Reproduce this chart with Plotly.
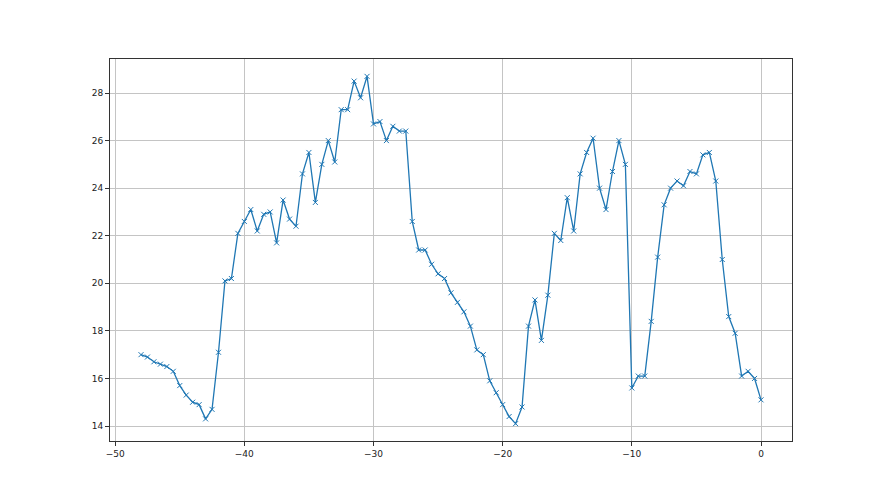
import plotly.graph_objects as go

x_vals = [-48 + 0.5 * i for i in range(97)]
y_vals = [17.0, 16.9, 16.7, 16.6, 16.5, 16.3, 15.7, 15.3, 15.0, 14.9,
          14.3, 14.7, 17.1, 20.1, 20.2, 22.1, 22.6, 23.1, 22.2, 22.9,
          23.0, 21.7, 23.5, 22.7, 22.4, 24.6, 25.5, 23.4, 25.0, 26.0,
          25.1, 27.3, 27.3, 28.5, 27.8, 28.7, 26.7, 26.8, 26.0, 26.6,
          26.4, 26.4, 22.6, 21.4, 21.4, 20.8, 20.4, 20.2, 19.6, 19.2,
          18.8, 18.2, 17.2, 17.0, 15.9, 15.4, 14.9, 14.4, 14.1, 14.8,
          18.2, 19.3, 17.6, 19.5, 22.1, 21.8, 23.6, 22.2, 24.6, 25.5,
          26.1, 24.0, 23.1, 24.7, 26.0, 25.0, 15.6, 16.1, 16.1, 18.4,
          21.1, 23.3, 24.0, 24.3, 24.1, 24.7, 24.6, 25.4, 25.5, 24.3,
          21.0, 18.6, 17.9, 16.1, 16.3, 16.0, 15.1]

x_ticks = [-50, -40, -30, -20, -10, 0]
y_ticks = [14, 16, 18, 20, 22, 24, 26, 28]

fig = go.Figure()
fig.add_trace(go.Scatter(
    x=x_vals, y=y_vals, mode="lines+markers",
    line=dict(color="#1f77b4", width=1.3),
    marker=dict(symbol="x-thin", size=5, color="#1f77b4",
                line=dict(width=1, color="#1f77b4")),
    showlegend=False,
))

axis_common = dict(
    showline=True, mirror=True, linecolor="#333333", linewidth=1,
    ticks="outside", ticklen=4, tickcolor="#333333",
    showgrid=True, gridcolor="#c4c4c4", gridwidth=1,
    zeroline=False,
    tickfont=dict(family="DejaVu Sans", size=9, color="#222222"),
)

fig.update_layout(
    width=880, height=495,
    margin=dict(l=102, r=96, t=51, b=62),
    paper_bgcolor="white", plot_bgcolor="white",
    xaxis=dict(range=[-50.4, 2.4], tickvals=x_ticks,
               ticktext=["\u221250", "\u221240", "\u221230", "\u221220", "\u221210", "0"],
               **axis_common),
    yaxis=dict(range=[13.37, 29.43], tickvals=y_ticks, **axis_common),
)

fig.write_html("out.html")
